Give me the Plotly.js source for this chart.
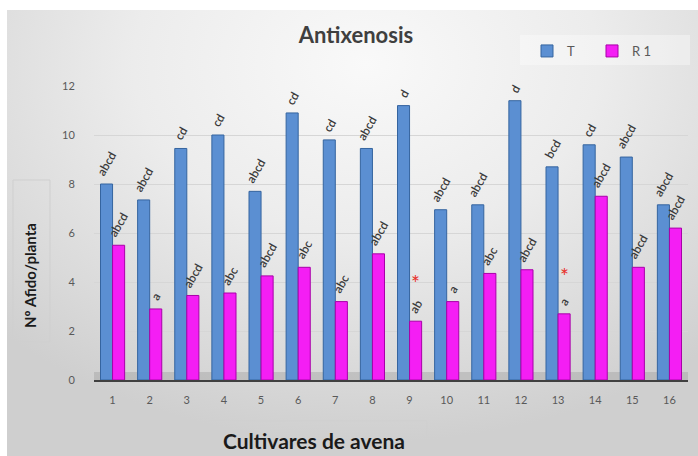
<!DOCTYPE html>
<html>
<head>
<meta charset="utf-8">
<script src="https://cdn.plot.ly/plotly-3.0.1.min.js"></script>
<style>
  html, body { margin: 0; padding: 0; background: #ffffff; }
  #frame { position: absolute; left: 7px; top: 10px; width: 691px; height: 446px;
    background: radial-gradient(ellipse 75% 85% at 52% 12%, #f9f9f9 0%, #ececec 45%, #dadada 80%, #cfcfcf 100%); }
  #chart { position: absolute; left: 0; top: 0; width: 698px; height: 456px; }
</style>
</head>
<body>
<div id="frame"></div>
<div id="chart"></div>
<script>
// ---- data ----
const cultivares = ['1','2','3','4','5','6','7','8','9','10','11','12','13','14','15','16'];
const valuesT  = [8.0, 7.35, 9.45, 10.0, 7.7, 10.9, 9.8, 9.45, 11.2, 6.95, 7.15, 11.4, 8.7, 9.6, 9.1, 7.15];
const valuesR1 = [5.5, 2.9, 3.45, 3.55, 4.25, 4.6, 3.2, 5.15, 2.4, 3.2, 4.35, 4.5, 2.7, 7.5, 4.6, 6.2];
const lettersT  = ['abcd','abcd','cd','cd','abcd','cd','cd','abcd','d','abcd','abcd','d','bcd','cd','abcd','abcd'];
const lettersR1 = ['abcd','a','abcd','abc','abcd','abc','abc','abcd','ab','a','abc','abcd','a','abcd','abcd','abcd'];
const starsR1   = ['','','','','','','','','*','','','','*','','',''];
const seriesNames = ['T', 'R 1'];
const chartTitle = 'Antixenosis';
const xTitle = 'Cultivares de avena';
const yTitle = 'Nº Afido/planta';

// ---- layout helpers ----
const W = 698, H = 456, L = 94, R = 10, T = 86, B = 76;
const PW = W - L - R, PH = H - T - B;
const px = v => (v - L) / PW;
const py = v => (H - B - v) / PH;

const FONT = 'Lato, "Open Sans", sans-serif';
const barOff = 6;

const traces = [
  { type: 'bar', name: seriesNames[0], x: cultivares, y: valuesT,
    marker: { color: '#5b8fd2', line: { color: '#35649f', width: 1 } } },
  { type: 'bar', name: seriesNames[1], x: cultivares, y: valuesR1,
    marker: { color: '#f41ef4', line: { color: '#a800a8', width: 1 } } }
];

// category axis: annotation x is the category index
const annotations = [];
cultivares.forEach((c, i) => {
  annotations.push({ x: i, y: valuesT[i], text: lettersT[i], showarrow: false,
    xref: 'x', yref: 'y', xshift: -barOff, yshift: 3, xanchor: 'center', yanchor: 'bottom',
    textangle: -60, font: { family: FONT, size: 12, weight: 600, color: '#3a3a3a' } });
  annotations.push({ x: i, y: valuesR1[i], text: lettersR1[i], showarrow: false,
    xref: 'x', yref: 'y', xshift: barOff, yshift: 3, xanchor: 'center', yanchor: 'bottom',
    textangle: -60, font: { family: FONT, size: 12, weight: 600, color: '#3a3a3a' } });
  if (starsR1[i]) {
    annotations.push({ x: i, y: valuesR1[i], text: starsR1[i], showarrow: false,
      xref: 'x', yref: 'y', xshift: barOff, yshift: 24, xanchor: 'center', yanchor: 'bottom',
      font: { family: FONT, size: 21, color: '#e8302a' } });
  }
});
annotations.push({ xref: 'paper', yref: 'paper', x: px(30), y: py(276), text: '<b>' + yTitle + '</b>',
  showarrow: false, textangle: -90, xanchor: 'center', yanchor: 'middle',
  font: { family: FONT, size: 15, color: '#1a1a1a' } });
annotations.push({ xref: 'paper', yref: 'paper', x: px(314), y: py(440), text: '<b>' + xTitle + '</b>',
  showarrow: false, xanchor: 'center', yanchor: 'middle',
  font: { family: FONT, size: 21, color: '#1a1a1a' } });

const shapes = [
  { type: 'rect', xref: 'paper', yref: 'paper', x0: px(13), x1: px(50), y0: py(342), y1: py(180),
    line: { color: '#cfcfcf', width: 1 }, fillcolor: 'rgba(0,0,0,0)', layer: 'below' },
  { type: 'rect', xref: 'paper', yref: 'paper', x0: px(209), x1: px(427), y0: py(456), y1: py(421),
    line: { color: '#cfcfcf', width: 1 }, fillcolor: 'rgba(0,0,0,0)', layer: 'below' },
  { type: 'rect', xref: 'paper', yref: 'paper', x0: 0, x1: 1, y0: 0, y1: py(372),
    line: { width: 0 }, fillcolor: 'rgba(150,150,150,0.35)', layer: 'below' },
  { type: 'rect', xref: 'paper', yref: 'paper', x0: px(520), x1: px(690), y0: py(65), y1: py(35),
    line: { width: 0 }, fillcolor: 'rgba(255,255,255,0.35)', layer: 'below' }
];

const layout = {
  width: W, height: H,
  margin: { l: L, r: R, t: T, b: B, autoexpand: false },
  paper_bgcolor: 'rgba(0,0,0,0)', plot_bgcolor: 'rgba(0,0,0,0)',
  font: { family: FONT, color: '#595959' },
  title: { text: chartTitle, xref: 'container', yref: 'container', x: 356 / W, y: 1 - 35 / H,
    xanchor: 'center', yanchor: 'middle', font: { family: FONT, size: 22, weight: 700, color: '#3f3f3f' } },
  barmode: 'group', bargap: 0.35, bargroupgap: 0,
  xaxis: { type: 'category', range: [-0.5, 15.5], showline: true, linecolor: '#404040', linewidth: 2,
    ticks: 'outside', ticklen: 9, tickcolor: 'rgba(0,0,0,0)', tickfont: { size: 11, color: '#595959' },
    showgrid: false, fixedrange: true, automargin: false },
  yaxis: { range: [0, 12], dtick: 2, showgrid: true, gridcolor: '#d6d6d6', gridwidth: 1, zeroline: false,
    ticks: 'outside', ticklen: 16, tickcolor: 'rgba(0,0,0,0)', tickfont: { size: 11, color: '#595959' },
    showline: false, fixedrange: true, automargin: false },
  showlegend: true,
  legend: { orientation: 'h', x: px(527), y: py(36), xanchor: 'left', yanchor: 'top',
    bgcolor: 'rgba(0,0,0,0)', font: { size: 13, color: '#595959' }, entrywidth: 20, entrywidthmode: 'pixels',
    itemwidth: 30, traceorder: 'normal' },
  annotations: annotations,
  shapes: shapes
};

Plotly.newPlot('chart', traces, layout, { displayModeBar: false, staticPlot: true });
</script>
</body>
</html>
